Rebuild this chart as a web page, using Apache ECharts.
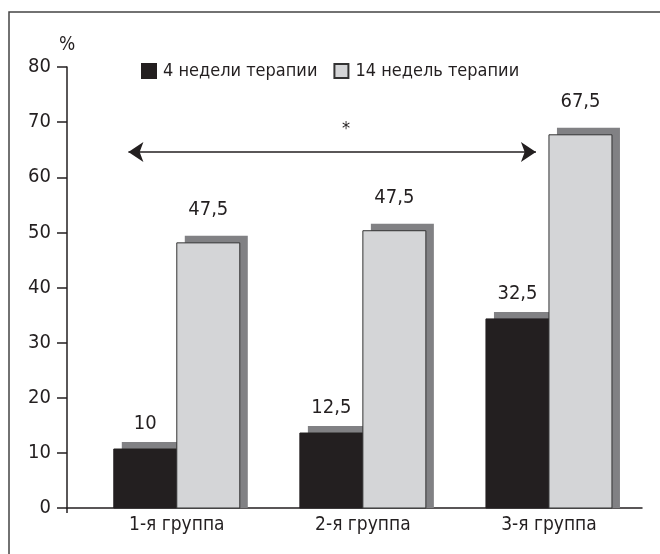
<!DOCTYPE html>
<html>
<head>
<meta charset="utf-8">
<script src="https://cdn.jsdelivr.net/npm/echarts@6/dist/echarts.min.js"></script>
<style>
  html, body { margin: 0; padding: 0; background: #fff; }
  #chart { width: 660px; height: 554px; }
</style>
</head>
<body>
<div id="chart"></div>
<script>
// Data
const groups = ['1-я группа', '2-я группа', '3-я группа'];
const groupPos = [1, 2, 3];
const seriesNames = ['4 недели терапии', '14 недель терапии'];
const weeks4 = [10.7, 13.6, 34.3];
const weeks14 = [48.1, 50.3, 67.7];
const labels4 = ['10', '12,5', '32,5'];
const labels14 = ['47,5', '47,5', '67,5'];
const yMin = 0, yMax = 80, yStep = 10;
const arrowSpan = [0.74, 2.93];
const arrowLevel = 64.6;
const starText = '*';

// Styles
const FONT = '"Liberation Sans Narrow", "DejaVu Sans Condensed", sans-serif';
const INK = '#231f20';
const DARK = '#231f20';
const LIGHT = '#d4d5d7';
const SHADOW = '#818184';
const BAR_W = 63;
const SH_X = 8, SH_Y = 7;

const chart = echarts.init(document.getElementById('chart'), null, { renderer: 'canvas' });

function makeRender(side, fill, stroke, texts, gap) {
  return function (params, api) {
    const x = api.value(0);
    const v = api.value(1);
    const base = api.coord([x, 0]);
    const top = api.coord([x, v]);
    const left = side === 'left' ? base[0] - BAR_W : base[0];
    const h = base[1] - top[1];
    return {
      type: 'group',
      children: [
        {
          type: 'rect',
          shape: { x: left + SH_X, y: top[1] - SH_Y, width: BAR_W, height: h + SH_Y },
          style: { fill: SHADOW }
        },
        {
          type: 'rect',
          shape: { x: left, y: top[1], width: BAR_W, height: h },
          style: { fill: fill, stroke: stroke, lineWidth: 1 }
        },
        {
          type: 'text',
          x: left + BAR_W / 2,
          y: top[1] - gap,
          style: {
            text: texts[params.dataIndex],
            fill: INK,
            font: '20px ' + FONT,
            align: 'center',
            verticalAlign: 'middle'
          }
        }
      ]
    };
  };
}

const option = {
  backgroundColor: '#fff',
  animation: false,
  textStyle: { fontFamily: FONT },
  graphic: [{
    type: 'rect',
    z: -10,
    shape: { x: 9, y: 12, width: 800, height: 800 },
    style: { fill: null, stroke: '#444', lineWidth: 1.5 }
  }],
  legend: {
    data: seriesNames,
    left: 141,
    top: 62,
    padding: 0,
    icon: 'rect',
    itemWidth: 14,
    itemHeight: 14,
    itemGap: 16,
    textStyle: { color: INK, fontSize: 18, fontFamily: FONT, padding: [0, 0, 0, 2] }
  },
  grid: { left: 67, right: 18, top: 67, bottom: 46 },
  xAxis: {
    type: 'value',
    min: 0.41,
    max: 3.5,
    splitLine: { show: false },
    axisLine: { show: true, lineStyle: { color: INK, width: 1.5 } },
    axisTick: { show: true, customValues: [0.41], length: 5, inside: false, lineStyle: { color: INK, width: 1.5 } },
    axisLabel: {
      customValues: groupPos,
      formatter: v => groups[Math.round(v) - 1],
      color: INK,
      fontSize: 19,
      fontFamily: FONT,
      margin: 8
    }
  },
  yAxis: {
    type: 'value',
    min: yMin,
    max: yMax,
    interval: yStep,
    name: '%',
    nameLocation: 'end',
    nameGap: 12,
    nameTextStyle: { color: INK, fontSize: 19, fontFamily: FONT, align: 'center' },
    splitLine: { show: false },
    axisLine: { show: true, lineStyle: { color: INK, width: 1.5 } },
    axisTick: { show: true, length: 10, lineStyle: { color: INK, width: 1.5 } },
    axisLabel: { color: INK, fontSize: 20, fontFamily: FONT, margin: 16 }
  },
  series: [
    {
      name: seriesNames[0],
      type: 'custom',
      itemStyle: { color: DARK, borderColor: DARK, borderWidth: 1 },
      renderItem: makeRender('left', DARK, DARK, labels4, 25),
      encode: { x: 0, y: 1 },
      data: groupPos.map((p, i) => [p, weeks4[i]])
    },
    {
      name: seriesNames[1],
      type: 'custom',
      itemStyle: { color: LIGHT, borderColor: '#333', borderWidth: 1 },
      renderItem: makeRender('right', LIGHT, '#333', labels14, 33),
      encode: { x: 0, y: 1 },
      data: groupPos.map((p, i) => [p, weeks14[i]])
    },
    {
      type: 'lines',
      coordinateSystem: 'cartesian2d',
      symbol: ['arrow', 'arrow'],
      symbolSize: 15,
      lineStyle: { color: INK, width: 1.5, opacity: 1 },
      label: {
        show: true,
        position: 'middle',
        formatter: starText,
        color: INK,
        fontSize: 18,
        fontFamily: FONT,
        distance: 14,
        offset: [14, 0]
      },
      data: [{ coords: [[arrowSpan[0], arrowLevel], [arrowSpan[1], arrowLevel]] }]
    }
  ]
};

chart.setOption(option);
</script>
</body>
</html>
